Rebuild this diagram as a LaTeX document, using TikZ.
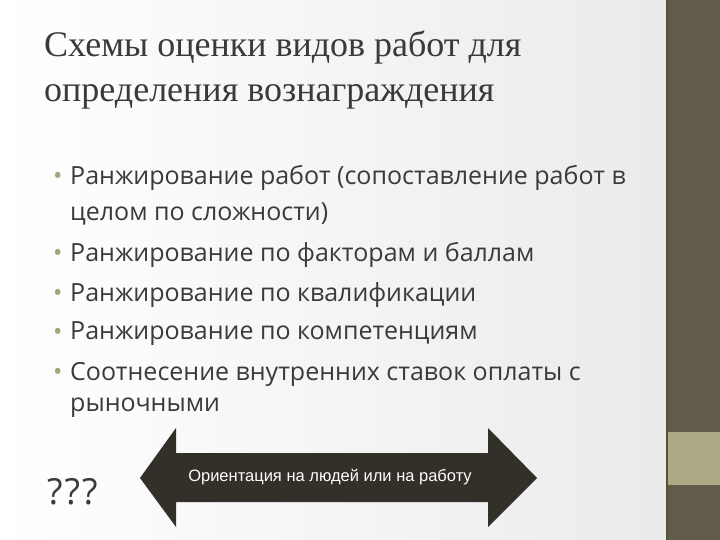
\documentclass[tikz,border=0pt]{standalone}
\usepackage{fontspec}
\setmainfont{Liberation Serif}
\newfontfamily\bodyf{Open Sans}
\newfontfamily\arrf{Liberation Sans}
\definecolor{bardark}{HTML}{625B4C}
\definecolor{barlight}{HTML}{ADA987}
\definecolor{bul}{HTML}{A8A47A}
\definecolor{txt}{HTML}{3A3A3A}
\begin{document}
\begin{tikzpicture}[x=1pt,y=-1pt,
  bl/.style={anchor=west,font=\bodyf\fontsize{25}{28}\selectfont,text=txt,inner sep=0},
  dot/.style={anchor=west,font=\bodyf\fontsize{25}{28}\selectfont,text=bul,inner sep=0}]
\useasboundingbox (0,0) rectangle (720,540);
\shade[left color=white,right color=black!8] (0,0) rectangle (666,540);
\fill[bardark] (666,0) rectangle (720,540);
\fill[barlight] (667,432) rectangle (720,485);
\draw[black!50!olive,line width=1.5pt] (667,0) -- (667,540);
\node[anchor=west,inner sep=0,align=left,font=\fontsize{36}{45}\selectfont,text=txt] (title) at (44,70) {Схемы оценки видов работ для\\определения вознаграждения};
\node[dot] (d1) at (53,178) {•}; \node[bl] (t1) at (70,178) {Ранжирование работ (сопоставление работ в};
\node[bl] (t1b) at (70,214) {целом по сложности)};
\node[dot] (d2) at (53,255) {•}; \node[bl] (t2) at (70,255) {Ранжирование по факторам и баллам};
\node[dot] (d3) at (53,295) {•}; \node[bl] (t3) at (70,295) {Ранжирование по квалификации};
\node[dot] (d4) at (53,334) {•}; \node[bl] (t4) at (70,334) {Ранжирование по компетенциям};
\node[dot] (d5) at (53,374) {•}; \node[bl] (t5) at (70,374) {Соотнесение внутренних ставок оплаты с};
\node[bl] (t5b) at (70,408) {рыночными};
\node[anchor=west,inner sep=0,font=\bodyf\fontsize{36}{40}\selectfont,text=txt] (q) at (47,492) {?\kern2pt?\kern2pt?};
\fill[black!85!olive] (140,478) -- (176,428) -- (176,453) -- (488,453) -- (488,428) -- (537,478) -- (488,527) -- (488,502) -- (176,502) -- (176,527) -- cycle;
\node[text=white,font=\arrf\fontsize{16.5}{18}\selectfont] (lab) at (330,477) {Ориентация на людей или на работу};
\end{tikzpicture}
\end{document}
